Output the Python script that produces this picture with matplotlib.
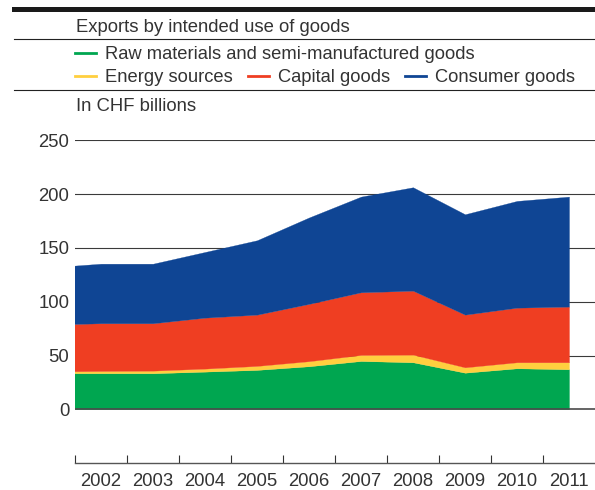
import matplotlib
matplotlib.use("Agg")
import matplotlib.pyplot as plt
from matplotlib.lines import Line2D

plt.rcParams['font.family'] = ['Liberation Sans', 'DejaVu Sans']

# yearly exports in CHF billions (2001 only feeds the left edge of the area)
years = [2001, 2002, 2003, 2004, 2005, 2006, 2007, 2008, 2009, 2010, 2011]
raw_materials = [33.5, 33.5, 33.5, 35.0, 36.6, 40.0, 44.9, 43.7, 34.0, 38.1, 37.2]
energy = [1.6, 2.1, 2.4, 2.8, 3.7, 4.7, 5.6, 7.1, 5.0, 5.6, 6.5]
capital = [43.6, 44.4, 44.1, 47.4, 47.7, 53.3, 58.3, 59.5, 49.0, 50.8, 51.8]
consumer = [53.2, 55.4, 55.4, 61.1, 69.2, 80.4, 89.0, 96.2, 93.4, 99.3, 102.3]

labels = ["Raw materials and semi-manufactured goods", "Energy sources",
          "Capital goods", "Consumer goods"]
colors = ["#00a650", "#ffcf3f", "#ef3e22", "#0f4594"]
year_labels = [2002, 2003, 2004, 2005, 2006, 2007, 2008, 2009, 2010, 2011]
y_ticks = [0, 50, 100, 150, 200, 250]

txt = "#333333"
fs = 13.3

fig = plt.figure(figsize=(5.95, 4.9), dpi=100)
ax = fig.add_axes([75 / 595, 27 / 490, 520 / 595, 322.5 / 490])

polys = ax.stackplot(years, raw_materials, energy, capital, consumer,
                     colors=colors, zorder=2)
for p, c in zip(polys, colors):
    p.set_edgecolor(c)
    p.set_linewidth(0.2)

ax.set_xlim(2001.5, 2011.5)
ax.set_ylim(-50, 250)

for v in y_ticks[1:]:
    ax.axhline(v, color="#3a3a3a", lw=0.8, zorder=1)
ax.axhline(0, color="#4a4a4a", lw=1.2, zorder=3)

ax.set_yticks(y_ticks)
ax.tick_params(axis="y", length=0, pad=4, labelsize=fs, labelcolor=txt)

ax.set_xticks(year_labels)
ax.set_xticks([y - 0.5 for y in year_labels], minor=True)
ax.tick_params(axis="x", which="major", length=0, pad=7, labelsize=fs, labelcolor=txt)
ax.tick_params(axis="x", which="minor", direction="in", length=5.8, width=0.8, color="#333333")

for s in ["top", "right", "left"]:
    ax.spines[s].set_visible(False)
ax.spines["bottom"].set_color("#555555")
ax.spines["bottom"].set_linewidth(1.0)

# header rules
fig.add_artist(Line2D([14 / 595, 1], [1 - 9.2 / 490] * 2, transform=fig.transFigure,
                      color="#1a1a1a", lw=3.6))
for yp in [39.3, 90]:
    fig.add_artist(Line2D([14 / 595, 1], [1 - yp / 490] * 2, transform=fig.transFigure,
                          color="#222222", lw=0.8))

fig.text(76 / 595, 1 - 32.3 / 490, "Exports by intended use of goods",
         fontsize=fs, color=txt, va="baseline")
fig.text(76 / 595, 1 - 111 / 490, "In CHF billions",
         fontsize=fs, color=txt, va="baseline")

handles = [Line2D([], [], color=c, lw=2.0) for c in colors]
leg_kw = dict(frameon=False, fontsize=13.2, handlelength=1.17, handletextpad=0.48,
              columnspacing=0.8, borderpad=0, borderaxespad=0, labelcolor=txt)
fig.legend(handles[:1], labels[:1], loc="center left",
           bbox_to_anchor=(75 / 595, 1 - 54.5 / 490), **leg_kw)
fig.legend(handles[1:], labels[1:], loc="center left", ncol=3,
           bbox_to_anchor=(75 / 595, 1 - 78 / 490), **leg_kw)

fig.savefig("out.png", dpi=100)
